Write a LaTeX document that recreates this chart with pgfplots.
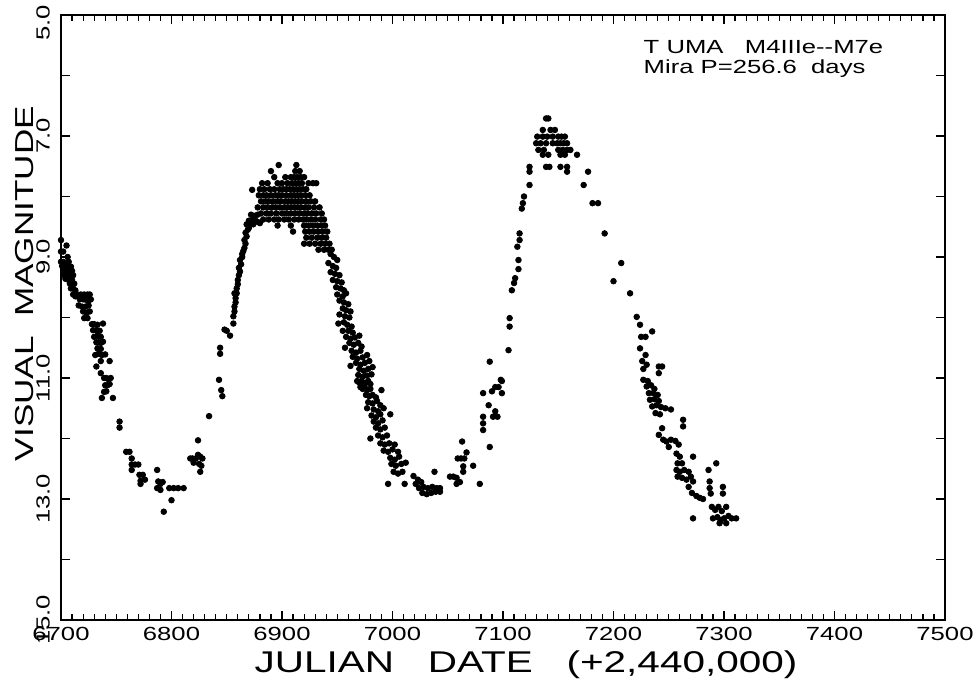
\documentclass[border=0pt]{standalone}
\usepackage{fontspec}
\setmainfont{Liberation Sans}[FakeStretch=1.35]
\usepackage{pgfplots}
\pgfplotsset{compat=1.18}
\begin{document}
\begin{tikzpicture}
\begin{axis}[
  at={(0,0)}, anchor=south west,
  scale only axis, width=442pt, height=302.5pt,
  xmin=6700, xmax=7500, ymin=5, ymax=15, y dir=reverse,
  xtick={6700,6800,6900,7000,7100,7200,7300,7400,7500},
  xticklabels={\mbox{6700},\mbox{6800},\mbox{6900},\mbox{7000},\mbox{7100},\mbox{7200},\mbox{7300},\mbox{7400},\mbox{7500}},
  minor x tick num=9,
  ytick={5,6,7,8,9,10,11,12,13,14,15},
  yticklabels={\mbox{5.0\kern8pt\rule{0pt}{1pt}},,\mbox{7.0},,\mbox{9.0},,\mbox{11.0},,\mbox{13.0},,\mbox{15.0}},
  tick align=inside,
  major tick length=4.5pt, minor tick length=3pt,
  axis line style={line width=0.8pt},
  every tick/.style={line width=0.6pt, black},
  xtick pos=both, ytick pos=both,
  xticklabel pos=bottom, yticklabel pos=left,
  xticklabel style={font=\fontsize{9.5}{10}\selectfont},
  yticklabel style={font=\fontsize{9.5}{10}\selectfont, rotate=90, anchor=south, yshift=2pt},
  xlabel={JULIAN\ \ \ DATE\ \ \ (+2,440,000)},
  ylabel={VISUAL\ \ MAGNITUDE},
  xlabel style={font=\fontsize{15}{16}\selectfont, at={(axis description cs:0.526,0)}, anchor=base, yshift=-26pt},
  ylabel style={font=\fontsize{13}{14}\selectfont, at={(axis description cs:0,0.556)}, anchor=center, yshift=18pt},
  clip=false,
]
\addplot[only marks, mark=*, mark size=1.4pt, black, mark options={fill=black}] table {
x y
6700 8.72
6705 8.81
6700 8.91
6702 8.91
6706 9.00
6700 9.08
6702 9.08
6704 9.10
6707 9.08
6701 9.15
6703 9.17
6705 9.15
6707 9.18
6709 9.16
6702 9.22
6704 9.24
6706 9.22
6708 9.25
6710 9.23
6703 9.30
6705 9.30
6707 9.32
6709 9.30
6711 9.30
6704 9.36
6706 9.37
6708 9.35
6710 9.38
6708 9.44
6710 9.46
6712 9.44
6709 9.52
6711 9.52
6713 9.55
6711 9.62
6715 9.62
6718 9.62
6721 9.62
6724 9.62
6726 9.62
6713 9.65
6717 9.70
6720 9.70
6723 9.71
6725 9.72
6727 9.70
6716 9.80
6719 9.82
6722 9.82
6725 9.80
6720 9.90
6723 9.92
6726 9.90
6721 10.01
6724 10.01
6728 10.11
6730 10.11
6733 10.12
6738 10.10
6729 10.21
6732 10.21
6735 10.22
6730 10.32
6733 10.30
6736 10.32
6732 10.41
6734 10.41
6736 10.42
6738 10.40
6733 10.51
6736 10.52
6731 10.62
6734 10.60
6737 10.62
6740 10.61
6736 10.72
6744 10.72
6732 10.81
6736 10.92
6739 11.00
6741 11.00
6743 11.02
6745 11.00
6740 11.12
6742 11.12
6744 11.10
6739 11.23
6741 11.22
6737 11.33
6747 11.33
6753 11.72
6753 11.82
6759 12.22
6762 12.22
6764 12.33
6764 12.43
6767 12.43
6770 12.43
6764 12.52
6771 12.60
6774 12.60
6772 12.70
6776 12.68
6772 12.75
6787 12.52
6788 12.71
6790 12.75
6792 12.72
6787 12.82
6790 12.85
6798 12.82
6802 12.82
6806 12.82
6811 12.82
6800 13.02
6793 13.21
6817 12.33
6819 12.33
6822 12.33
6824 12.27
6826 12.30
6828 12.33
6820 12.40
6825 12.42
6827 12.45
6826 12.55
6824 12.03
6834 11.63
6843 11.03
6845 11.20
6846 11.30
6844 10.50
6844 10.60
6848 10.20
6850 10.22
6853 10.30
6856 10.10
6856 9.98
6857 9.90
6857 9.82
6858 9.75
6858 9.68
6857 9.60
6859 9.60
6859 9.52
6860 9.45
6860 9.38
6861 9.30
6862 9.24
6861 9.18
6863 9.12
6862 9.05
6864 9.00
6864 8.95
6865 8.90
6866 8.85
6867 8.78
6866 8.72
6868 8.66
6867 8.60
6869 8.55
6870 8.52
6868 8.46
6871 8.46
6874 8.46
6870 8.40
6873 8.38
6876 8.40
6878 8.42
6880 8.44
6872 8.30
6875 8.32
6878 8.30
6873 7.89
6897 7.48
6913 7.48
6890 7.58
6912 7.58
6916 7.58
6893 7.68
6903 7.68
6908 7.68
6911 7.68
6914 7.68
6917 7.68
6920 7.68
6882 7.78
6887 7.78
6896 7.78
6900 7.78
6905 7.78
6909 7.78
6912 7.78
6915 7.78
6918 7.78
6924 7.78
6928 7.78
6931 7.78
6880 7.88
6884 7.88
6889 7.88
6893 7.88
6898 7.88
6901 7.88
6904 7.88
6907 7.88
6910 7.88
6913 7.88
6916 7.88
6919 7.88
6922 7.88
6879 7.98
6883 7.98
6886 7.98
6890 7.98
6894 7.98
6897 7.98
6900 7.98
6904 7.98
6908 7.98
6911 7.98
6914 7.98
6917 7.98
6921 7.98
6925 7.98
6881 8.08
6885 8.08
6888 8.08
6892 8.08
6896 8.08
6899 8.08
6903 8.08
6906 8.08
6909 8.08
6912 8.08
6915 8.08
6918 8.08
6922 8.08
6926 8.08
6930 8.08
6878 8.18
6883 8.18
6887 8.18
6891 8.18
6894 8.18
6898 8.18
6902 8.18
6905 8.18
6908 8.18
6911 8.18
6914 8.18
6917 8.18
6921 8.18
6924 8.18
6929 8.18
6934 8.18
6881 8.28
6886 8.28
6890 8.28
6895 8.28
6900 8.28
6904 8.28
6908 8.28
6912 8.28
6916 8.28
6920 8.28
6923 8.28
6927 8.28
6931 8.28
6936 8.28
6883 8.38
6888 8.38
6893 8.38
6897 8.38
6902 8.38
6906 8.38
6911 8.38
6915 8.38
6919 8.38
6922 8.38
6926 8.38
6930 8.38
6935 8.38
6938 8.38
6896 8.48
6908 8.48
6920 8.48
6924 8.48
6928 8.48
6932 8.48
6936 8.48
6939 8.48
6910 8.58
6921 8.58
6925 8.58
6929 8.58
6933 8.58
6937 8.58
6941 8.58
6922 8.68
6927 8.68
6932 8.68
6936 8.68
6940 8.68
6920 8.78
6925 8.78
6930 8.78
6935 8.78
6939 8.78
6943 8.78
6933 8.88
6938 8.88
6942 8.88
6945 8.88
6944 8.95
6947 9.00
6950 9.05
6942 9.10
6946 9.15
6949 9.18
6944 9.25
6948 9.28
6952 9.30
6946 9.38
6950 9.40
6954 9.42
6949 9.50
6953 9.52
6956 9.55
6950 9.62
6955 9.65
6958 9.60
6952 9.72
6956 9.75
6960 9.78
6955 9.85
6958 9.88
6962 9.90
6952 9.95
6957 9.98
6961 10.00
6951 10.10
6956 10.08
6959 10.12
6963 10.15
6955 10.22
6960 10.22
6964 10.25
6958 10.32
6962 10.35
6966 10.33
6970 10.30
6961 10.42
6965 10.45
6969 10.42
6972 10.48
6957 10.50
6963 10.55
6967 10.58
6971 10.55
6964 10.65
6968 10.68
6973 10.66
6977 10.62
6967 10.75
6971 10.78
6975 10.75
6979 10.72
6962 10.80
6970 10.85
6974 10.88
6978 10.85
6982 10.82
6969 10.95
6973 10.98
6977 10.96
6981 10.94
6968 11.05
6970 11.08
6972 11.05
6974 11.10
6976 11.08
6978 11.05
6980 11.10
6971 11.15
6973 11.18
6975 11.16
6977 11.20
6980 11.18
6990 11.20
6976 11.28
6979 11.30
6982 11.28
6985 11.32
6978 11.40
6982 11.42
6986 11.38
6989 11.45
6977 11.50
6983 11.52
6987 11.55
6992 11.50
6981 11.62
6985 11.65
6989 11.60
6998 11.60
6983 11.72
6987 11.75
6991 11.70
6985 11.82
6989 11.85
6993 11.82
6980 12.00
6987 11.95
6991 11.98
6995 11.95
6989 12.08
6993 12.10
6997 12.08
7002 12.10
6992 12.20
6996 12.22
7000 12.18
7005 12.22
6998 12.32
7002 12.35
7006 12.30
6999 12.42
7003 12.45
7008 12.42
7012 12.40
7001 12.55
7005 12.58
7009 12.55
6996 12.75
7011 12.75
7019 12.62
7023 12.68
7021 12.75
7026 12.72
7024 12.82
7028 12.80
7032 12.82
7036 12.80
7040 12.82
7027 12.90
7031 12.92
7035 12.90
7039 12.88
7043 12.88
7038 12.55
7043 12.82
7052 12.63
7055 12.63
7058 12.65
7058 12.75
7061 12.72
7059 12.33
7062 12.33
7065 12.33
7067 12.23
7064 12.46
7064 12.55
7063 12.05
7073 12.45
7079 12.75
7088 12.14
7082 11.64
7082 11.75
7082 11.86
7087 11.45
7091 11.64
7095 11.64
7093 11.55
7082 11.25
7090 11.22
7093 11.15
7096 11.15
7099 11.25
7099 11.05
7088 10.73
7098 11.03
7105 10.54
7106 10.01
7106 10.15
7108 9.55
7110 9.43
7111 9.35
7114 9.20
7114 9.05
7113 8.83
7115 8.61
7115 8.72
7117 8.20
7118 8.11
7119 8.00
7124 7.81
7124 7.51
7124 7.59
7139 6.71
7141 6.71
7136 6.90
7143 6.90
7147 6.90
7131 7.01
7136 7.01
7140 7.01
7145 7.01
7150 7.01
7153 7.01
7156 7.01
7130 7.12
7134 7.12
7139 7.12
7145 7.12
7149 7.12
7152 7.12
7155 7.12
7158 7.12
7132 7.23
7137 7.23
7150 7.23
7154 7.23
7158 7.23
7161 7.23
7136 7.31
7141 7.31
7152 7.31
7156 7.31
7167 7.31
7139 7.51
7142 7.51
7152 7.51
7158 7.51
7158 7.59
7177 7.59
7173 7.81
7181 8.11
7186 8.11
7192 8.61
7207 9.10
7200 9.40
7215 9.60
7221 9.99
7224 10.12
7225 10.32
7229 10.32
7235 10.23
7224 10.51
7229 10.62
7226 10.72
7230 10.78
7227 10.85
7241 10.81
7244 10.81
7241 10.92
7227 11.03
7231 11.05
7230 11.14
7234 11.12
7237 11.18
7232 11.25
7236 11.25
7240 11.28
7233 11.36
7237 11.35
7241 11.38
7235 11.47
7239 11.45
7243 11.48
7247 11.50
7252 11.52
7238 11.58
7242 11.60
7244 11.83
7241 11.94
7245 12.02
7248 12.05
7252 12.02
7256 12.04
7259 12.10
7250 12.14
7263 11.69
7263 11.80
7257 12.25
7260 12.30
7258 12.41
7262 12.41
7257 12.52
7260 12.55
7264 12.52
7268 12.55
7258 12.63
7262 12.65
7266 12.68
7270 12.63
7272 12.71
7272 12.30
7268 12.80
7271 12.90
7275 12.95
7278 12.98
7281 13.00
7286 12.52
7293 12.41
7287 12.71
7287 12.82
7288 12.91
7299 12.80
7299 12.91
7289 13.13
7292 13.18
7295 13.13
7298 13.20
7302 13.13
7290 13.32
7294 13.30
7297 13.35
7300 13.32
7304 13.28
7307 13.32
7296 13.40
7302 13.40
7272 13.32
7311 13.32
};
\node[anchor=base west, font=\fontsize{9.5}{10}\selectfont, inner sep=0pt] at (axis cs:7227,5.63) {T UMA\ \ \ M4IIIe{-}{-}M7e};
\node[anchor=base west, font=\fontsize{9.5}{10}\selectfont, inner sep=0pt] at (axis cs:7227,5.96) {Mira P=256.6\ \ days};
\end{axis}
\pgfresetboundingbox
\path (-30.5pt,-30pt) rectangle (458.5pt,310pt);
\end{tikzpicture}
\end{document}
